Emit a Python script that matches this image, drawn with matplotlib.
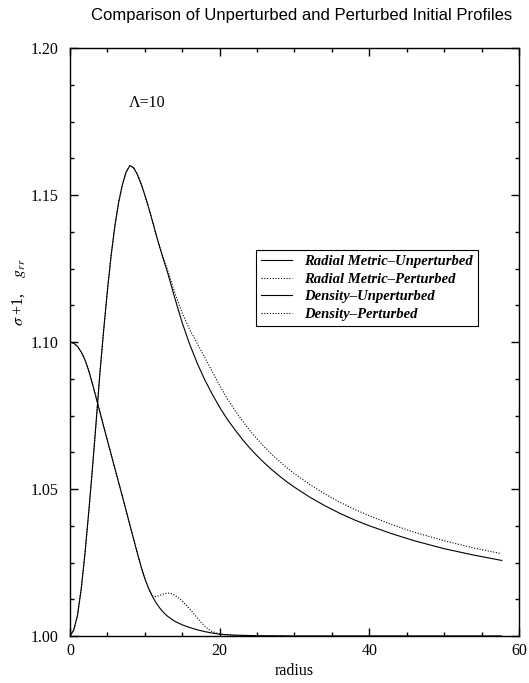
import matplotlib
matplotlib.use("Agg")
import matplotlib.pyplot as plt
from matplotlib.ticker import MultipleLocator

plt.rcParams['font.family'] = ['Liberation Serif', 'DejaVu Serif']
plt.rcParams['mathtext.fontset'] = 'stix'

# Radial metric g_rr (unperturbed)
r_metric = [0, 0.5, 1.0, 1.5, 2.0, 2.5, 3.0, 3.5, 4.0, 4.5, 5.0, 5.5, 6.0, 6.5, 7.0,
            7.5, 8.0, 8.5, 9.0, 9.5, 10.0, 10.5, 11.0, 11.5, 12.0, 12.5, 13.0, 14.0,
            15.0, 16.0, 17.0, 18.0, 19.0, 20.0, 21.0, 22.0, 23.0, 24.0, 25.0, 26.0,
            27.0, 28.0, 29.0, 30.0, 32.0, 34.0, 36.0, 38.0, 40.0, 43.0, 46.0, 50.0,
            54.0, 57.7]
g_unpert = [1.0000, 1.0020, 1.0070, 1.0160, 1.0280, 1.0420, 1.0570, 1.0730, 1.0895,
            1.1040, 1.1175, 1.1295, 1.1395, 1.1475, 1.1535, 1.1578, 1.1600, 1.1593,
            1.1570, 1.1538, 1.1500, 1.1458, 1.1413, 1.1366, 1.1322, 1.1280, 1.1240,
            1.1150, 1.1065, 1.0992, 1.0928, 1.0872, 1.0823, 1.0778, 1.0738, 1.0703,
            1.0670, 1.0640, 1.0613, 1.0588, 1.0565, 1.0544, 1.0524, 1.0506, 1.0473,
            1.0444, 1.0418, 1.0395, 1.0375, 1.0348, 1.0324, 1.0297, 1.0275, 1.0257]

# Radial metric (perturbed) - splits off after r ~ 12
r_metric_p = [0, 0.5, 1.0, 1.5, 2.0, 2.5, 3.0, 3.5, 4.0, 4.5, 5.0, 5.5, 6.0, 6.5, 7.0,
              7.5, 8.0, 8.5, 9.0, 9.5, 10.0, 10.5, 11.0, 11.5, 12.0, 12.5, 13.0, 14.0,
              15.0, 16.0, 17.0, 18.0, 19.0, 20.0, 21.0, 22.0, 23.0, 24.0, 25.0, 26.0,
              27.0, 28.0, 29.0, 30.0, 32.0, 34.0, 36.0, 38.0, 40.0, 43.0, 46.0, 50.0,
              54.0, 57.5]
g_pert = [1.0000, 1.0020, 1.0070, 1.0160, 1.0280, 1.0420, 1.0570, 1.0730, 1.0895,
          1.1040, 1.1175, 1.1295, 1.1395, 1.1475, 1.1535, 1.1578, 1.1600, 1.1593,
          1.1570, 1.1538, 1.1500, 1.1458, 1.1413, 1.1366, 1.1322, 1.1283, 1.1248,
          1.1168, 1.1098, 1.1042, 1.0995, 1.0948, 1.0900, 1.0852, 1.0808, 1.0769,
          1.0733, 1.0700, 1.0670, 1.0643, 1.0617, 1.0594, 1.0572, 1.0552, 1.0516,
          1.0484, 1.0456, 1.0431, 1.0409, 1.0379, 1.0353, 1.0324, 1.0299, 1.0281]

# Density sigma+1 (unperturbed)
r_dens = [0, 0.5, 1.0, 1.5, 2.0, 2.5, 3.0, 3.5, 4.0, 4.5, 5.0, 6.0, 7.0, 8.0, 9.0,
          9.5, 10.0, 10.5, 11.0, 11.5, 12.0, 12.5, 13.0, 14.0, 15.0, 16.0, 17.0, 18.0,
          19.0, 20.0, 22.0, 25.0, 30.0, 40.0, 50.0, 57.7]
s_unpert = [1.1000, 1.0996, 1.0985, 1.0966, 1.0940, 1.0903, 1.0858, 1.0810, 1.0762,
            1.0713, 1.0665, 1.0570, 1.0475, 1.0378, 1.0282, 1.0236, 1.0195, 1.0162,
            1.0135, 1.0113, 1.0095, 1.0080, 1.0068, 1.0050, 1.0038, 1.0029, 1.0021,
            1.0015, 1.0010, 1.0006, 1.0003, 1.0001, 1.0, 1.0, 1.0, 1.0]

# Density (perturbed) - bump around r ~ 13
r_dens_p = [0, 0.5, 1.0, 1.5, 2.0, 2.5, 3.0, 3.5, 4.0, 4.5, 5.0, 6.0, 7.0, 8.0, 9.0,
            9.5, 10.0, 10.5, 11.0, 11.5, 12.0, 12.5, 13.0, 13.5, 14.0, 14.5, 15.0,
            15.5, 16.0, 16.5, 17.0, 17.5, 18.0, 18.5, 19.0, 20.0, 21.0, 22.0, 25.0,
            30.0, 40.0, 50.0, 57.7]
s_pert = [1.1000, 1.0996, 1.0985, 1.0966, 1.0940, 1.0903, 1.0858, 1.0810, 1.0762,
          1.0713, 1.0665, 1.0570, 1.0475, 1.0378, 1.0282, 1.0236, 1.0195, 1.0163,
          1.0138, 1.0134, 1.0138, 1.0143, 1.0146, 1.0145, 1.0139, 1.0130, 1.0119,
          1.0106, 1.0092, 1.0077, 1.0062, 1.0047, 1.0034, 1.0023, 1.0015, 1.0007,
          1.0004, 1.0002, 1.0001, 1.0, 1.0, 1.0, 1.0]

fig = plt.figure(figsize=(5.29, 6.83), dpi=100)
ax = fig.add_axes([0.1323, 0.0688, 0.8488, 0.8609])

ax.plot(r_metric, g_unpert, color='black', lw=0.8, label='Radial Metric\u2013Unperturbed')
ax.plot(r_metric_p, g_pert, color='black', lw=0.8, ls=(0, (1, 1.5)), label='Radial Metric\u2013Perturbed')
ax.plot(r_dens, s_unpert, color='black', lw=0.8, label='Density\u2013Unperturbed')
ax.plot(r_dens_p, s_pert, color='black', lw=0.8, ls=(0, (1, 1.5)), label='Density\u2013Perturbed')

ax.set_xlim(0, 60)
ax.set_ylim(1.0, 1.2)
ax.xaxis.set_major_locator(MultipleLocator(20))
ax.xaxis.set_minor_locator(MultipleLocator(5))
ax.yaxis.set_major_locator(MultipleLocator(0.05))
ax.yaxis.set_minor_locator(MultipleLocator(0.0125))
ax.yaxis.set_major_formatter(plt.FormatStrFormatter('%.2f'))
ax.tick_params(which='both', direction='in', top=True, right=True, labelsize=11.5)
ax.tick_params(which='major', length=6, width=1)
ax.tick_params(which='minor', length=3, width=1)
ax.tick_params(axis='y', pad=8)
ax.tick_params(axis='x', pad=5)
for s in ax.spines.values():
    s.set_linewidth(1)

ax.set_xlabel('radius', fontsize=11.5, labelpad=3)
ax.set_ylabel(r'$\sigma$ +1,    $g_{rr}$', fontsize=11.5)
ax.yaxis.set_label_coords(-0.093, 0.585)

ax.text(7.8, 1.1813, '\u039b=10', fontsize=11.5, va='center')

fig.text(0.571, 0.977, 'Comparison of Unperturbed and Perturbed Initial Profiles',
         ha='center', va='center', fontsize=12, family='Liberation Sans')

leg = ax.legend(loc='upper left', bbox_to_anchor=(0.4143, 0.6565), borderaxespad=0,
                fancybox=False, edgecolor='black', framealpha=1,
                prop={'family': 'Liberation Serif', 'weight': 'bold', 'style': 'italic', 'size': 10.5},
                handlelength=2.1, labelspacing=0.3, borderpad=0.35, handletextpad=0.85)
leg.get_frame().set_linewidth(0.8)

fig.savefig('out.png', dpi=100)
